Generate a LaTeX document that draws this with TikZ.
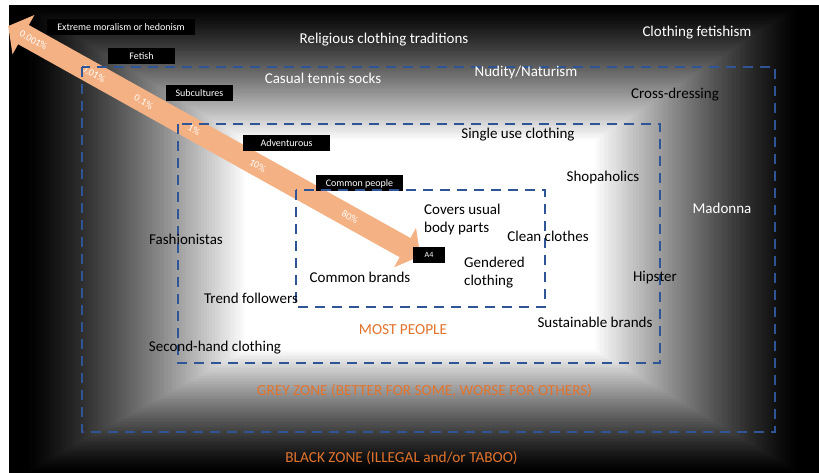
\documentclass[tikz,border=0pt]{standalone}
\usepackage{fontspec}
\setmainfont{Carlito}
\usetikzlibrary{calc}

\definecolor{dashblue}{RGB}{47,85,151}
\definecolor{arroworange}{RGB}{244,177,131}
\definecolor{zoneorange}{RGB}{226,115,45}

\tikzset{
  zone/.style={draw=dashblue, line width=2.5pt, dash pattern=on 10pt off 7pt},
  tag/.style={fill=black, text=white, font=\fontsize{10}{12}\selectfont, minimum height=16pt, inner sep=0pt},
  item/.style={font=\fontsize{15}{18}\selectfont, inner sep=0pt},
  darkitem/.style={item, text=white},
  zonetext/.style={font=\fontsize{15.3}{18}\selectfont, text=zoneorange, inner sep=0pt},
  pct/.style={font=\fontsize{10}{12}\selectfont, text=white, transform shape, inner sep=0pt}
}

\begin{document}
\begin{tikzpicture}[x=1pt, y=-1pt]
  \useasboundingbox (0,0) rectangle (819,473);
  % black frame fading to a white middle
  \fill[black] (9,5) rectangle (819,473);
  \foreach \i in {0,...,80} {
    \pgfmathsetmacro{\t}{\i/80}
    \pgfmathsetmacro{\w}{100*\t^1.25}
    \fill[white!\w!black] ($(25,5)!\t!(245,140)$) rectangle ($(800,473)!\t!(595,350)$);
  }

  % the scale arrow
  \begin{scope}[shift={(8.2,26.1)}, rotate=-29.17]
    \fill[arroworange] (0,0) -- (17.5,22.5) -- (17.5,11) -- (454.5,11) -- (454.5,22.5) -- (472,0)
      -- (454.5,-22.5) -- (454.5,-11) -- (17.5,-11) -- (17.5,-22.5) -- cycle;
    \node[pct] (p1) at (29,0) {0.001\%};
    \node[pct] (p2) at (97.8,0) {0.01\%};
    \node[pct] (p3) at (155.2,0) {0.1\%};
    \node[pct] (p4) at (212.9,0) {1\%};
    \node[pct] (p5) at (285.8,0) {10\%};
    \node[pct] (p6) at (391.4,0) {80\%};
  \end{scope}

  % black tags
  \node[tag, minimum width=148pt] (extreme) at (121,27.5) {Extreme moralism or hedonism};
  \node[tag, minimum width=67pt] (fetish) at (141.5,56.5) {Fetish};
  \node[tag, minimum width=67pt] (subcult) at (199.5,93.5) {Subcultures};
  \node[tag, minimum width=87pt] (advent) at (286.5,143) {Adventurous};
  \node[tag, minimum width=87pt] (common) at (359.5,183.5) {Common people};
  \node[tag, minimum width=32pt, font=\fontsize{8}{10}\selectfont] (a4) at (429,255) {A4};

  % dashed zones
  \draw[zone] (82,67) rectangle (775,432);
  \draw[zone] (178,124) rectangle (660,363);
  \draw[zone] (296,190) rectangle (545,307);

  % labels
  \node[darkitem] (religious) at (384,40) {Religious clothing traditions};
  \node[darkitem] (fetishism) at (697,33) {Clothing fetishism};
  \node[darkitem] (socks) at (323,78) {Casual tennis socks};
  \node[darkitem] (nudity) at (526,73) {Nudity/Naturism};
  \node[item] (crossdress) at (675,95) {Cross-dressing};
  \node[item] (singleuse) at (518,135) {Single use clothing};
  \node[item] (shopaholics) at (603,178) {Shopaholics};
  \node[darkitem] (madonna) at (722,208) {Madonna};
  \node[item] (fashionistas) at (186,239) {Fashionistas};
  \node[item, align=left, anchor=west] (covers) at (424,220) {Covers usual\\body parts};
  \node[item] (clean) at (548,236) {Clean clothes};
  \node[item, align=left, anchor=west] (gendered) at (464,273) {Gendered\\clothing};
  \node[item] (brands) at (360,277) {Common brands};
  \node[item] (hipster) at (655,278) {Hipster};
  \node[item] (trend) at (251,298) {Trend followers};
  \node[item] (sustain) at (595,322) {Sustainable brands};
  \node[item] (secondhand) at (215,348) {Second-hand clothing};
  \node[zonetext] (most) at (403,330) {MOST PEOPLE};
  \node[zonetext] (grey) at (424.5,391) {GREY ZONE (BETTER FOR SOME, WORSE FOR OTHERS)};
  \node[zonetext] (blackzone) at (401.5,458) {BLACK ZONE (ILLEGAL and/or TABOO)};
\end{tikzpicture}
\end{document}
